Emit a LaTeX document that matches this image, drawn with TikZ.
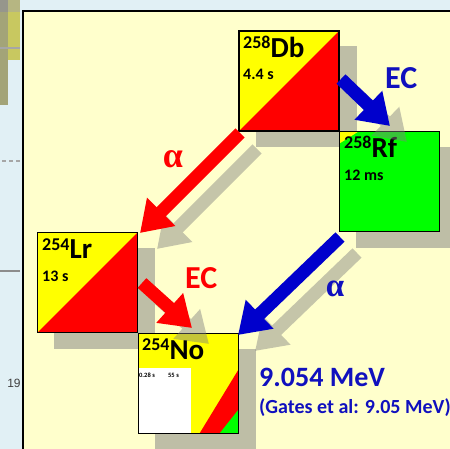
\documentclass[tikz,border=0pt]{standalone}
\usepackage{fontspec}
\setmainfont{Carlito}
\newfontfamily\pagefont{Liberation Sans}
\newfontfamily\alphafont{Liberation Serif}
\usetikzlibrary{arrows.meta}
\definecolor{bgblue}{RGB}{225,240,245}
\definecolor{panel}{RGB}{255,255,204}
\definecolor{shade}{RGB}{190,190,166}
\definecolor{nucred}{RGB}{255,0,0}
\definecolor{nucyel}{RGB}{255,255,0}
\definecolor{nucgreen}{RGB}{0,255,0}
\definecolor{arrblue}{RGB}{0,0,204}
\definecolor{txtblue}{RGB}{16,16,190}
\definecolor{stripgray}{RGB}{163,164,120}
\definecolor{striptop}{RGB}{150,150,140}
\definecolor{stripolive}{RGB}{200,200,96}
\definecolor{olivetop}{RGB}{182,182,130}
\newcommand\iso[2]{{\fontsize{18}{18}\selectfont\raisebox{9pt}{#1}}{\fontsize{29}{29}\selectfont #2}}
\begin{document}
\begin{tikzpicture}[x=1pt,y=-1pt,
  nucbox/.style={draw=black, line width=1.3pt, minimum width=100pt, minimum height=100pt, inner sep=0pt, fill=nucyel},
  splitbox/.style={nucbox, path picture={\fill[nucred] (path picture bounding box.south west) -- (path picture bounding box.north east) -- (path picture bounding box.south east) -- cycle;}},
  rfbox/.style={nucbox, fill=nucgreen, path picture={\fill[nucyel] (path picture bounding box.north west) -- ([xshift=19pt]path picture bounding box.north west) -- ([yshift=-12pt]path picture bounding box.north west) -- cycle;}},
  nobox/.style={nucbox, path picture={
     \fill[white] (path picture bounding box.south west) rectangle ([xshift=52pt,yshift=66pt]path picture bounding box.south west);
     \fill[nucred] ([xshift=61pt]path picture bounding box.south west) -- ([yshift=64pt]path picture bounding box.south east) -- (path picture bounding box.south east) -- cycle;
     \fill[nucgreen] ([xshift=81pt]path picture bounding box.south west) -- ([yshift=24pt]path picture bounding box.south east) -- (path picture bounding box.south east) -- cycle;}},
  shadowbox/.style={fill=shade, minimum width=101pt, minimum height=101pt, inner sep=0pt},
  decay/.style={line width=13pt, -{Triangle[width=38pt,length=30pt]}},
  shadowarrow/.style={decay, draw=black!50},
  lab/.style={inner sep=0pt, anchor=base west, font=\bfseries},
  half/.style={lab, font=\bfseries\fontsize{16}{16}\selectfont},
  tiny/.style={lab, font=\bfseries\fontsize{6.5}{6.5}\selectfont},
  modelab/.style={inner sep=0pt, anchor=base west, font=\bfseries\fontsize{32}{32}\selectfont},
  alab/.style={inner sep=0pt, font=\alphafont\bfseries\fontsize{36}{36}\selectfont}
]
\useasboundingbox (0,0) rectangle (450,449);
\fill[bgblue] (0,0) rectangle (450,449);
% left strip
\fill[stripgray] (0,0) rectangle (8,105);
\fill[striptop] (0,0) rectangle (8,12);
\fill[stripolive] (8,0) rectangle (20,60);
\fill[olivetop] (8,0) rectangle (20,12);
\draw[black!35, line width=1.2pt] (0,48) -- (20,48);
\draw[black!35, line width=2pt, dash pattern=on 4pt off 3pt] (2,161) -- (20,161);
\draw[black!45, line width=2.5pt] (0,271) -- (20,271);
\node[font=\pagefont\fontsize{12}{12}\selectfont, text=black!75, inner sep=0pt] (pg) at (14,383) {19};
% panel
\fill[panel] (23,11) rectangle (450,449);
\draw[line width=2.2pt] (23,449) -- (23,11) -- (450,11);
% box positions
\coordinate (dbc) at (289,81);
\coordinate (rfc) at (389.5,181.5);
\coordinate (lrc) at (87.5,282.5);
\coordinate (noc) at (188.5,383.5);
% box shadows
\node[shadowbox] (dbsh) at ([shift={(17,16)}]dbc) {};
\node[shadowbox] (rfsh) at ([shift={(17,16)}]rfc) {};
\node[shadowbox] (lrsh) at ([shift={(17,16)}]lrc) {};
\node[shadowbox] (nosh) at ([shift={(17,16)}]noc) {};
% boxes
\node[splitbox] (db) at (dbc) {};
\node[rfbox] (rf) at (rfc) {};
\node[splitbox] (lr) at (lrc) {};
\node[nobox] (no) at (noc) {};
% box texts
\node[lab] (dbn) at (243,58) {\iso{258}{Db}};
\node[half] (dbt) at (243,80) {4.4 s};
\node[lab] (rfn) at (344,158) {\iso{258}{Rf}};
\node[half] (rft) at (344,181) {12 ms};
\node[lab] (lrn) at (42,259) {\iso{254}{Lr}};
\node[half] (lrt) at (42,282) {13 s};
\node[lab] (non) at (142,359) {\iso{254}{No}};
\node[tiny] (not1) at (139,377) {0.28 s};
\node[tiny] (not2) at (168,377) {55 s};
% arrow end points
\coordinate (a1s) at (240,133); \coordinate (a1e) at (140,233);
\coordinate (e1s) at (341,79);  \coordinate (e1e) at (390,126);
\coordinate (a2s) at (340,237); \coordinate (a2e) at (238,335);
\coordinate (e2s) at (142,283); \coordinate (e2e) at (192,328);
% arrow shadows
\begin{scope}[transparency group, opacity=0.45]
\draw[shadowarrow] ([shift={(17,16)}]a1s) -- ([shift={(17,16)}]a1e);
\end{scope}
\begin{scope}[transparency group, opacity=0.45]
\draw[shadowarrow] ([shift={(17,16)}]e1s) -- ([shift={(17,16)}]e1e);
\end{scope}
\begin{scope}[transparency group, opacity=0.45]
\draw[shadowarrow] ([shift={(17,16)}]a2s) -- ([shift={(17,16)}]a2e);
\end{scope}
\begin{scope}[transparency group, opacity=0.45]
\draw[shadowarrow] ([shift={(17,16)}]e2s) -- ([shift={(17,16)}]e2e);
\end{scope}
% arrows
\draw[decay, draw=nucred] (a1s) -- (a1e);
\draw[decay, draw=arrblue] (e1s) -- (e1e);
\draw[decay, draw=arrblue] (a2s) -- (a2e);
\draw[decay, draw=nucred] (e2s) -- (e2e);
% decay labels
\node[alab, text=nucred] (al1) at (173,159) {α};
\node[modelab, text=txtblue] (ec1) at (385,89) {EC};
\node[alab, text=txtblue, font=\alphafont\bfseries\fontsize{33}{33}\selectfont] (al2) at (335,289) {α};
\node[modelab, text=nucred] (ec2) at (185,288) {EC};
% energy
\node[lab, text=txtblue, font=\bfseries\fontsize{28}{28}\selectfont] (en) at (259,386) {9.054 MeV};
\node[lab, text=txtblue, font=\bfseries\fontsize{20}{20}\selectfont] (gates) at (259,413) {(Gates et al: 9.05 MeV)};
\end{tikzpicture}
\end{document}
